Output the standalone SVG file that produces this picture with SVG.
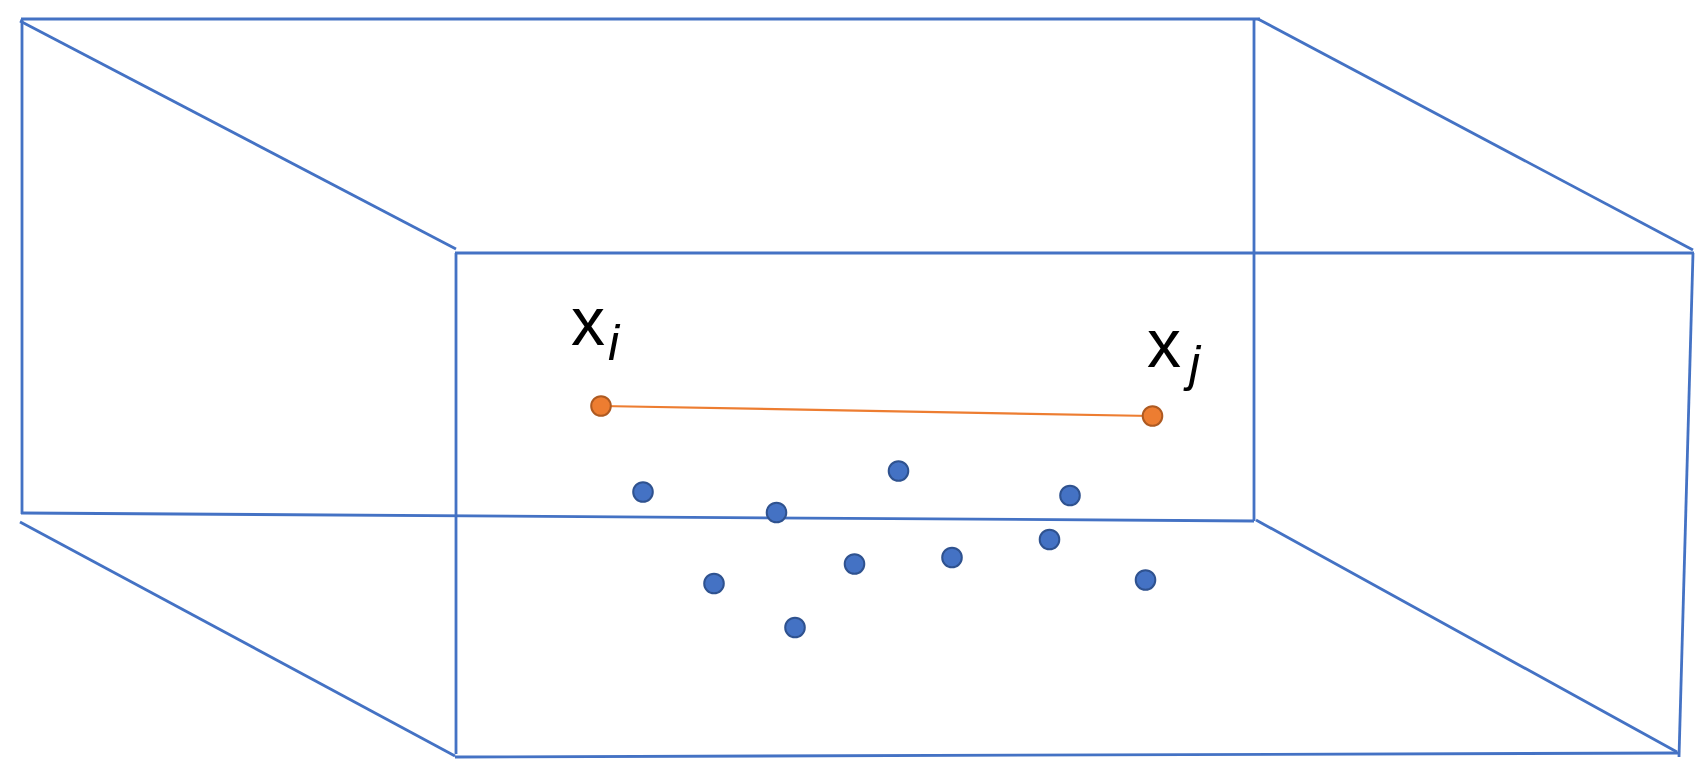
<svg xmlns="http://www.w3.org/2000/svg" width="1708" height="772" viewBox="0 0 1708 772">
  <style>
    .edge { stroke: #4472C4; stroke-width: 2.8; fill: none; stroke-linecap: butt; }
    .pt { fill: #4472C4; stroke: #2F528F; stroke-width: 2; }
    .opt { fill: #ED7D31; stroke: #AE5A21; stroke-width: 2; }
    .link { stroke: #ED7D31; stroke-width: 2.2; fill: none; }
    .lbl { font-family: "Liberation Sans", "Open Sans", sans-serif; fill: #000; }
    .sub { font-family: "Liberation Sans", "Open Sans", sans-serif; font-style: italic; fill: #000; }
  </style>
  <rect x="0" y="0" width="1708" height="772" fill="#FFFFFF"/>
  <g id="box">
    <line class="edge" x1="21" y1="19" x2="1260" y2="19"/>
    <line class="edge" x1="22" y1="19" x2="22" y2="514"/>
    <line class="edge" x1="1254" y1="19" x2="1254" y2="521"/>
    <line class="edge" x1="21" y1="513" x2="1254" y2="521"/>
    <line class="edge" x1="20" y1="21" x2="456" y2="249"/>
    <line class="edge" x1="1258" y1="19" x2="1693" y2="250"/>
    <line class="edge" x1="20" y1="522" x2="455" y2="756"/>
    <line class="edge" x1="1256" y1="520" x2="1677" y2="752"/>
    <line class="edge" x1="455" y1="253" x2="1694" y2="253"/>
    <line class="edge" x1="456" y1="253" x2="456" y2="754"/>
    <line class="edge" x1="455" y1="757" x2="1679" y2="753"/>
    <line class="edge" x1="1693" y1="253" x2="1679" y2="757"/>
  </g>
  <g id="connectors">
    <line class="link" x1="601" y1="406" x2="1152" y2="416"/>
  </g>
  <g id="node-xi">
    <circle class="opt" cx="601" cy="406" r="9.8"/>
    <text class="lbl" x="571" y="345" font-size="68">x</text>
    <text class="sub" x="608" y="360" font-size="50">i</text>
  </g>
  <g id="node-xj">
    <circle class="opt" cx="1152.5" cy="416" r="9.8"/>
    <text class="lbl" x="1147" y="367" font-size="68">x</text>
    <text class="sub" x="1189" y="381" font-size="50">j</text>
  </g>
  <g id="points">
    <circle id="p1" class="pt" cx="643" cy="492" r="9.8"/>
    <circle id="p2" class="pt" cx="776.5" cy="512.5" r="9.8"/>
    <circle id="p3" class="pt" cx="898.5" cy="471" r="9.8"/>
    <circle id="p4" class="pt" cx="1070" cy="495.5" r="9.8"/>
    <circle id="p5" class="pt" cx="1049.5" cy="539.5" r="9.8"/>
    <circle id="p6" class="pt" cx="952" cy="557.5" r="9.8"/>
    <circle id="p7" class="pt" cx="854.5" cy="564" r="9.8"/>
    <circle id="p8" class="pt" cx="714" cy="583.5" r="9.8"/>
    <circle id="p9" class="pt" cx="795" cy="627.5" r="9.8"/>
    <circle id="p10" class="pt" cx="1145.5" cy="580" r="9.8"/>
  </g>
</svg>
